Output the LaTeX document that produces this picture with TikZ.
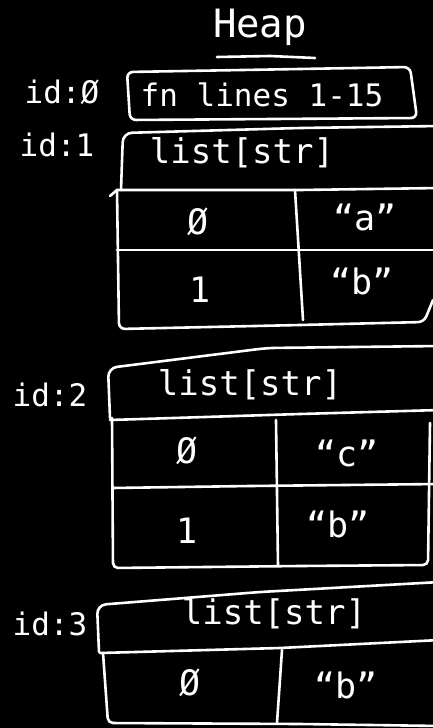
\documentclass[tikz,border=0pt]{standalone}
\usepackage{fontspec}
\setmainfont{DejaVu Sans Mono}
\begin{document}
\begin{tikzpicture}[x=1pt,y=-1pt,
  ink/.style={draw=white,line width=2.6pt,line cap=round,line join=round},
  lbl/.style={text=white,inner sep=0pt,font=\fontsize{31}{31}\selectfont},
  hdr/.style={text=white,inner sep=0pt,font=\fontsize{34}{34}\selectfont},
  cell/.style={text=white,inner sep=0pt,font=\fontsize{35}{35}\selectfont}]
\fill[black] (0,0) rectangle (433,728);
\useasboundingbox (0,0) rectangle (433,728);

% title
\node[text=white,inner sep=0pt,font=\fontsize{39}{39}\selectfont] (heap) at (260,27) {Heap};
\draw[ink] (217,57) -- (270,56) -- (315,58);

% id:0
\node[lbl] (id0) at (62,92) {id:Ø};
\draw[ink,rounded corners=6] (130,120) -- (127,72) -- (300,69) -- (410,67) -- (417,118) -- cycle;
\node[lbl] (fn) at (262,95) {fn lines 1-15};

% id:1
\node[lbl] (id1) at (57,145) {id:1};
\draw[ink,rounded corners=9] (121,190) -- (123,133) -- (300,128) -- (440,126);
\node[hdr] (h1) at (242,153) {list[str]};
\draw[ink] (110,196) -- (117,190) -- (300,190) -- (440,188);
\draw[ink,rounded corners=6] (117,190) -- (119,329) -- (300,325) -- (424,322) -- (433,300);
\draw[ink] (117,250) -- (300,250) -- (440,250);
\draw[ink] (295,190) -- (303,320);
\node[cell] (a0) at (198,222) {Ø};
\node[cell] (a1) at (365,217) {“a”};
\node[cell] (b0) at (200,290) {1};
\node[cell] (b1) at (362,281) {“b”};

% id:2
\node[lbl] (id2) at (50,395) {id:2};
\draw[ink,rounded corners=9] (110,418) -- (108,368) -- (267,348) -- (440,346);
\node[hdr] (h2) at (250,385) {list[str]};
\draw[ink] (110,420) -- (300,414) -- (440,410);
\draw[ink,rounded corners=5] (112,418) -- (113,568) -- (300,566) -- (428,565) -- (430,423);
\draw[ink] (112,488) -- (250,486) -- (440,484);
\draw[ink] (276,420) -- (278,566);
\node[cell] (c0) at (187,451) {Ø};
\node[cell] (c1) at (347,453) {“c”};
\node[cell] (d0) at (187,531) {1};
\node[cell] (d1) at (338,524) {“b”};

% id:3
\node[lbl] (id3) at (50,624) {id:3};
\draw[ink,rounded corners=9] (99,652) -- (97,605) -- (260,592) -- (440,582);
\node[hdr] (h3) at (274,614) {list[str]};
\draw[ink] (100,653) -- (280,648) -- (440,640);
\draw[ink,rounded corners=5] (103,653) -- (108,723) -- (300,724) -- (440,726);
\draw[ink] (282,650) -- (277,723);
\node[cell] (e0) at (190,683) {Ø};
\node[cell] (e1) at (346,685) {“b”};
\end{tikzpicture}
\end{document}
